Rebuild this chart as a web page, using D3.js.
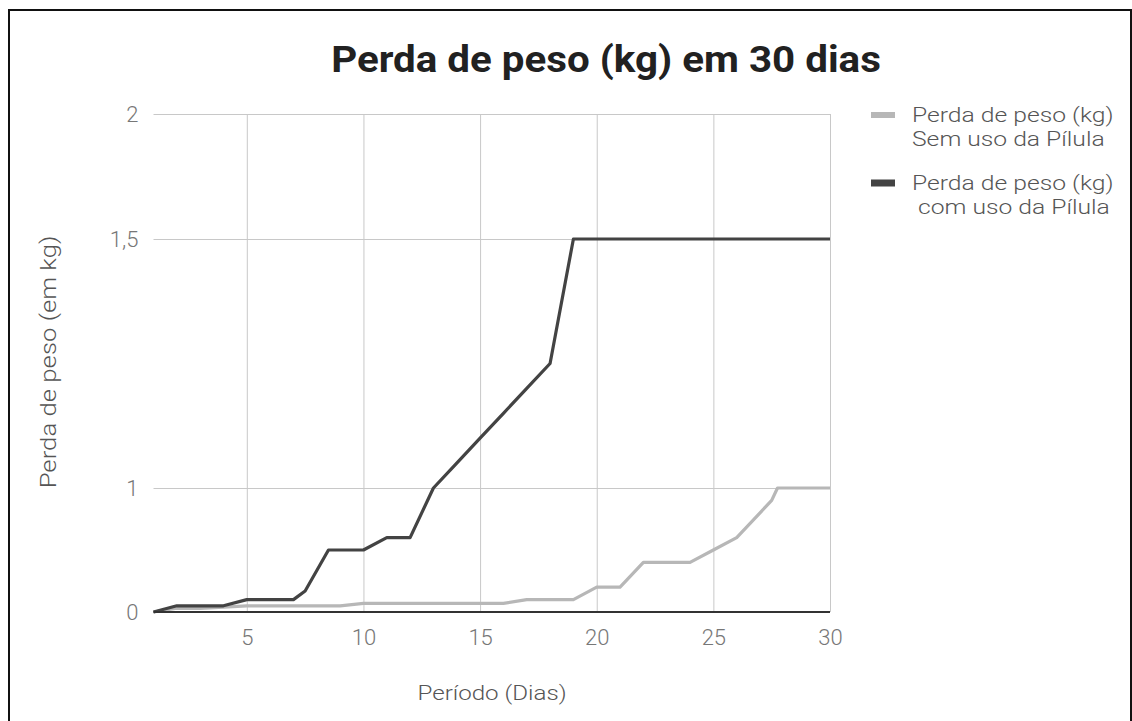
<!DOCTYPE html>
<html>
<head>
<meta charset="utf-8">
<script src="https://cdn.jsdelivr.net/npm/d3@7"></script>
<style>
  body { margin: 0; background: #fff; }
  text { font-family: Roboto, "Noto Sans", sans-serif; }
</style>
</head>
<body>
<div id="app"></div>
<script>
const title = 'Perda de peso (kg) em 30 dias'
const xTitle = 'Período (Dias)'
const yTitle = 'Perda de peso (em kg)'

// sem uso da pílula
const semDias = [1, 2, 3, 4, 5, 6, 7, 8, 9, 10, 11, 12, 13, 14, 15, 16, 17, 18, 19, 20, 21, 22, 23, 24, 25, 26, 27, 27.5, 27.75, 28, 29, 30]
const semPerda = [0, 0.03, 0.03, 0.04, 0.05, 0.05, 0.05, 0.05, 0.05, 0.07, 0.07, 0.07, 0.07, 0.07, 0.07, 0.07, 0.1, 0.1, 0.1, 0.2, 0.2, 0.4, 0.4, 0.4, 0.5, 0.6, 0.8, 0.9, 1, 1, 1, 1]

// com uso da pílula
const comDias = [1, 2, 3, 4, 5, 6, 7, 7.5, 8.5, 9, 10, 11, 12, 13, 14, 15, 16, 17, 18, 19, 20, 21, 22, 23, 24, 25, 26, 27, 28, 29, 30]
const comPerda = [0, 0.05, 0.05, 0.05, 0.1, 0.1, 0.1, 0.17, 0.5, 0.5, 0.5, 0.6, 0.6, 1, 1.05, 1.1, 1.15, 1.2, 1.25, 1.5, 1.5, 1.5, 1.5, 1.5, 1.5, 1.5, 1.5, 1.5, 1.5, 1.5, 1.5]

const seriesNames = [['Perda de peso (kg)', 'Sem uso da Pílula'], ['Perda de peso (kg)', ' com uso da Pílula']]
const seriesColors = ['#b7b7b7', '#434343']

const xTicks = [5, 10, 15, 20, 25, 30]
const yTicks = [0, 1, 1.5, 2]

const W = 1132, H = 721

const svg = d3.select('#app')
  .append('svg')
  .attr('width', W)
  .attr('height', H)

svg.append('rect').attr('width', W).attr('height', H).attr('fill', '#fff')
svg.append('rect')
  .attr('x', 9).attr('y', 10)
  .attr('width', 1122).attr('height', 800)
  .attr('fill', 'none').attr('stroke', '#111').attr('stroke-width', 2)

const x = d3.scaleLinear().domain([1, 30]).range([153.5, 830])
const y = d3.scaleLinear().domain([0, 1, 1.5, 2]).range([612, 488, 239, 114])

const ptBr = d3.formatLocale({ decimal: ',', thousands: '.', grouping: [3], currency: ['R$', ''] })
const fmt = ptBr.format('~g')

// gridlines + tick labels
const gx = svg.append('g')
  .attr('transform', `translate(0, ${y(0)})`)
  .call(d3.axisBottom(x).tickValues(xTicks).tickSize(-(y(0) - y(2))).tickPadding(17))
const gy = svg.append('g')
  .attr('transform', `translate(${x(1)}, 0)`)
  .call(d3.axisLeft(y).tickValues(yTicks).tickFormat(fmt).tickSize(-(x(30) - x(1))).tickPadding(15))

for (const g of [gx, gy]) {
  g.select('.domain').remove()
  g.selectAll('line').attr('stroke', '#c8c8c8').attr('stroke-width', 1)
  g.selectAll('text')
    .attr('fill', '#777')
    .attr('font-size', 22)
    .attr('font-weight', 300)
}
gy.selectAll('.tick').filter(d => d === 0).select('line').remove()

// lines
const line = d3.line().x(d => x(d[0])).y(d => y(d[1]))
const series = [d3.zip(semDias, semPerda), d3.zip(comDias, comPerda)]

svg.selectAll('path.serie')
  .data(series)
  .enter().append('path')
  .attr('class', 'serie')
  .attr('d', line)
  .attr('fill', 'none')
  .attr('stroke', (d, i) => seriesColors[i])
  .attr('stroke-width', 3.2)
  .attr('stroke-linejoin', 'round')

// baseline
svg.append('line')
  .attr('x1', x(1)).attr('x2', x(30))
  .attr('y1', y(0)).attr('y2', y(0))
  .attr('stroke', '#333').attr('stroke-width', 1.8)

// titles
function label(tx, ty, rot, sx, size, weight, color, txt) {
  svg.append('g').attr('transform', `translate(${tx}, ${ty}) rotate(${rot})`)
    .append('text')
    .attr('text-anchor', 'middle')
    .attr('transform', `scale(${sx},1)`)
    .attr('font-size', size).attr('font-weight', weight).attr('fill', color)
    .text(txt)
}
label(606, 72, 0, 1.09, 37, 'bold', '#212121', title)
label(492, 700, 0, 1.15, 21, 300, '#555', xTitle)
label(56, 362, -90, 1.17, 22, 300, '#555', yTitle)

// legend
const leg = svg.selectAll('g.leg')
  .data(seriesNames)
  .enter().append('g')
  .attr('class', 'leg')
  .attr('transform', (d, i) => `translate(871, ${115 + i * 68})`)

leg.append('rect')
  .attr('x', 0).attr('y', (d, i) => i ? -3.5 : -3)
  .attr('width', 24).attr('height', (d, i) => i ? 7 : 6)
  .attr('fill', (d, i) => seriesColors[i])

leg.each(function (d) {
  d3.select(this).selectAll('g')
    .data(d)
    .enter().append('g')
    .attr('transform', (t, j) => `translate(41, ${7 + j * 24})`)
    .append('text')
    .attr('transform', 'scale(1.175,1)')
    .attr('font-size', 21).attr('font-weight', 300).attr('fill', '#555')
    .style('white-space', 'pre')
    .text(t => t)
})
</script>
</body>
</html>
